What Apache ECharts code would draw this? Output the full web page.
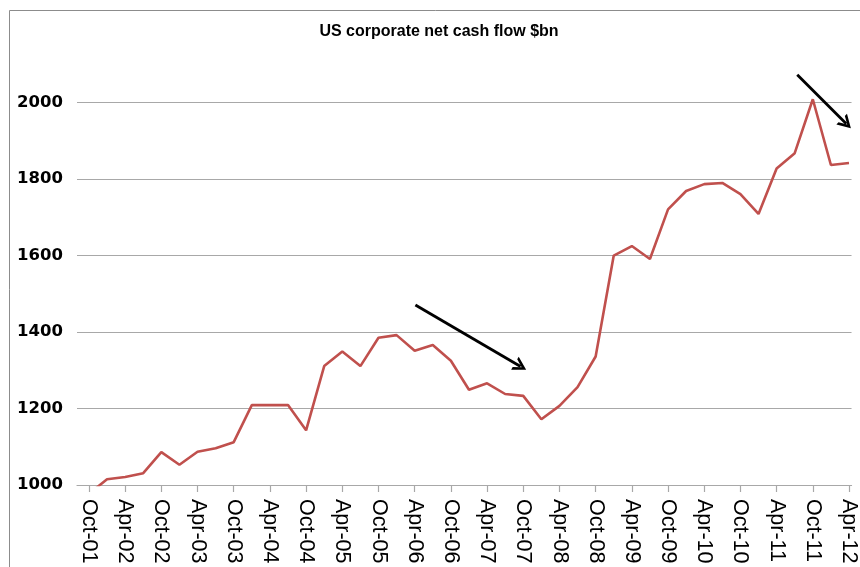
<!DOCTYPE html>
<html>
<head>
<meta charset="utf-8">
<script src="https://cdn.jsdelivr.net/npm/echarts@6/dist/echarts.min.js"></script>
<style>
  html, body { margin: 0; padding: 0; background: #ffffff; }
  #chart { width: 860px; height: 567px; }
</style>
</head>
<body>
<div id="chart"></div>
<script>
// Quarterly observations, Oct-01 through Apr-12
const quarters = [
  'Oct-01', 'Jan-02', 'Apr-02', 'Jul-02', 'Oct-02', 'Jan-03', 'Apr-03', 'Jul-03',
  'Oct-03', 'Jan-04', 'Apr-04', 'Jul-04', 'Oct-04', 'Jan-05', 'Apr-05', 'Jul-05',
  'Oct-05', 'Jan-06', 'Apr-06', 'Jul-06', 'Oct-06', 'Jan-07', 'Apr-07', 'Jul-07',
  'Oct-07', 'Jan-08', 'Apr-08', 'Jul-08', 'Oct-08', 'Jan-09', 'Apr-09', 'Jul-09',
  'Oct-09', 'Jan-10', 'Apr-10', 'Jul-10', 'Oct-10', 'Jan-11', 'Apr-11', 'Jul-11',
  'Oct-11', 'Jan-12', 'Apr-12'
];

// US corporate net cash flow, $bn
const netCashFlow = [
   977, 1015, 1021, 1031, 1086, 1053, 1087, 1096,
  1112, 1209, 1209, 1209, 1143, 1311, 1349, 1311,
  1385, 1392, 1351, 1366, 1325, 1249, 1266, 1238,
  1233, 1172, 1207, 1256, 1336, 1600, 1625, 1591,
  1721, 1769, 1787, 1790, 1761, 1709, 1828, 1868,
  2009, 1837, 1842
];

// Half-yearly labels along the time axis
const tickLabels = [
  'Oct-01', 'Apr-02', 'Oct-02', 'Apr-03', 'Oct-03', 'Apr-04', 'Oct-04', 'Apr-05',
  'Oct-05', 'Apr-06', 'Oct-06', 'Apr-07', 'Oct-07', 'Apr-08', 'Oct-08', 'Apr-09',
  'Oct-09', 'Apr-10', 'Oct-10', 'Apr-11', 'Oct-11', 'Apr-12'
];

// Value-axis ticks
const valueTicks = [1000, 1200, 1400, 1600, 1800, 2000];

// Trend arrows, in [quarter index, $bn]
const trendArrows = [
  { from: [18.04, 1471], to: [23.85, 1310] },
  { from: [39.14, 2073], to: [41.85, 1945] }
];

const tickIndex = tickLabels.map(l => quarters.indexOf(l));
const seriesData = netCashFlow.map((v, i) => [i, v]);

const chart = echarts.init(document.getElementById('chart'), null, { renderer: 'canvas' });

chart.setOption({
  backgroundColor: '#ffffff',
  animation: false,
  grid: { left: 77, right: 2.3, top: 26.2, bottom: 82 },
  graphic: [
    {
      type: 'rect',
      z: -10,
      silent: true,
      shape: { x: 9.5, y: 10.5, width: 900, height: 600 },
      style: { fill: 'none', stroke: '#8c8c8c', lineWidth: 1 }
    },
    {
      type: 'text',
      x: 439, y: 32,
      silent: true,
      style: {
        text: 'US corporate net cash flow $bn',
        fill: '#000000',
        font: 'bold 16px "Liberation Sans", Arial, sans-serif',
        align: 'center',
        verticalAlign: 'middle'
      }
    }
  ],
  xAxis: {
    type: 'value',
    min: -0.66,
    max: 42.14,
    splitLine: { show: false },
    axisLine: { show: true, lineStyle: { color: '#a8a8a8', width: 1.2 } },
    axisTick: {
      show: true,
      length: 7,
      customValues: tickIndex,
      lineStyle: { color: '#a8a8a8', width: 1.2 }
    },
    axisLabel: {
      customValues: tickIndex,
      rotate: -90,
      margin: 14,
      color: '#000000',
      fontFamily: '"Liberation Sans", Arial, sans-serif',
      fontSize: 21.5,
      formatter: v => quarters[Math.round(v)] || ''
    }
  },
  yAxis: {
    type: 'value',
    min: valueTicks[0],
    max: 2200,
    interval: 200,
    axisLine: { show: false },
    axisTick: { show: false },
    splitLine: {
      show: true,
      showMaxLine: false,
      lineStyle: { color: '#a8a8a8', width: 1.2 }
    },
    axisLabel: {
      showMaxLabel: false,
      margin: 14,
      color: '#000000',
      fontFamily: '"DejaVu Sans", sans-serif',
      fontWeight: 'bold',
      fontSize: 16.5,
      formatter: v => String(v)
    }
  },
  series: [
    {
      type: 'line',
      data: seriesData,
      showSymbol: false,
      symbol: 'none',
      clip: true,
      lineStyle: { color: '#C0504D', width: 2.6 },
      silent: true,
      markLine: {
        silent: true,
        symbol: ['none', 'path://M0,12 L6,0 L12,12 L9.6,12 L6,4.8 L2.4,12 Z'],
        symbolSize: [15, 13],
        label: { show: false },
        lineStyle: { color: '#000000', width: 2.8, type: 'solid' },
        emphasis: { disabled: true },
        data: trendArrows.map(a => [{ coord: a.from }, { coord: a.to }])
      }
    }
  ]
});
</script>
</body>
</html>
